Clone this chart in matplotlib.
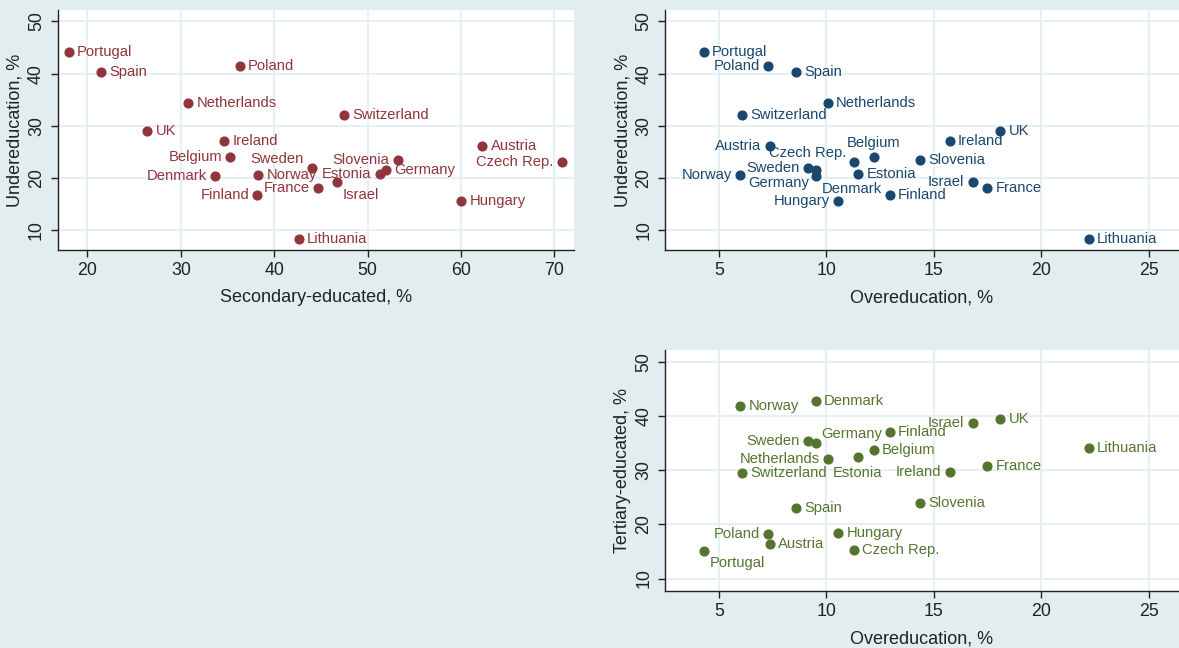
import matplotlib
matplotlib.use("Agg")
import matplotlib.pyplot as plt

plt.rcParams['font.family'] = ['Liberation Sans', 'DejaVu Sans']

countries = ["Portugal", "Spain", "Poland", "Netherlands", "Switzerland", "UK",
             "Ireland", "Belgium", "Denmark", "Norway", "Finland", "Sweden",
             "France", "Israel", "Estonia", "Germany", "Slovenia", "Lithuania",
             "Hungary", "Austria", "Czech Rep."]

secondary = [18.0, 21.4, 36.3, 30.8, 47.5, 26.4, 34.6, 35.3, 33.7, 38.3, 38.2, 44.0,
             44.7, 46.7, 51.3, 52.0, 53.2, 42.6, 60.0, 62.3, 70.8]
undereducation = [44.2, 40.4, 41.4, 34.3, 32.1, 29.0, 27.0, 24.1, 20.3, 20.6, 16.7, 22.0,
                  18.1, 19.2, 20.8, 21.5, 23.5, 8.4, 15.6, 26.2, 23.1]
overeducation = [4.3, 8.6, 7.3, 10.07, 6.07, 18.08, 15.73, 12.2, 9.5, 6.0, 12.94, 9.13,
                 17.48, 16.8, 11.47, 9.5, 14.35, 22.2, 10.54, 7.38, 11.29]
tertiary = [15.1, 23.0, 18.2, 32.1, 29.5, 39.4, 29.6, 33.7, 42.7, 41.9, 37.1, 35.4,
            30.7, 38.7, 32.5, 35.1, 24.0, 34.1, 18.5, 16.3, 15.2]

# label positions (clock positions)
pos1 = {"Belgium": 9, "Denmark": 9, "Finland": 9, "Sweden": 11, "France": 9,
        "Israel": 5, "Estonia": 9, "Slovenia": 9, "Czech Rep.": 9}
pos2 = {"Poland": 9, "Austria": 9, "Czech Rep.": 11, "Belgium": 12, "Sweden": 9,
        "Germany": 7, "Denmark": 5, "Norway": 9, "Hungary": 9, "Israel": 9}
pos3 = {"Israel": 9, "Germany": 1, "Sweden": 9, "Netherlands": 9, "Estonia": 6,
        "Ireland": 9, "Poland": 9, "Portugal": 5}

BG = "#e1edef"
GRID = "#e6eff1"

fig = plt.figure(figsize=(11.79, 6.48), dpi=100)
fig.patch.set_facecolor(BG)

W, H = 1179.0, 648.0
def make_ax(l, r, t, b):
    return fig.add_axes([l / W, 1 - b / H, (r - l) / W, (b - t) / H])

ax1 = make_ax(57.6, 574, 10, 250)
ax2 = make_ax(665.1, 1179, 10, 250)
ax3 = make_ax(665.1, 1179, 350, 591)

offsets = {3: (6, 0, 'left', 'center'), 9: (-6, 0, 'right', 'center'),
           11: (-5.5, 6.3, 'right', 'center'), 12: (0, 10, 'center', 'center'),
           1: (4, 6, 'left', 'center'), 5: (4.5, -9, 'left', 'center'),
           7: (-5, -9, 'right', 'center'), 6: (0, -12, 'center', 'center')}

def panel(ax, xs, ys, color, pos, xlim, ylim, xticks, xlabel, ylabel):
    ax.set_facecolor("white")
    ax.plot(xs, ys, 'o', color=color, ms=6.3, zorder=3, clip_on=False)
    for c, x, y in zip(countries, xs, ys):
        p = pos.get(c, 3)
        dx, dy, ha, va = offsets[p]
        ax.annotate(c, (x, y), xytext=(dx, dy), textcoords='offset points',
                    ha=ha, va=va, color=color, fontsize=10.6, zorder=4)
    ax.set_xlim(*xlim)
    ax.set_ylim(*ylim)
    ax.set_xticks(xticks)
    ax.set_yticks([10, 20, 30, 40, 50])
    ax.grid(True, color=GRID, lw=1.5, zorder=0)
    ax.set_axisbelow(True)
    for s in ["top", "right"]:
        ax.spines[s].set_visible(False)
    for s in ["left", "bottom"]:
        ax.spines[s].set_color("#222222")
        ax.spines[s].set_linewidth(1.0)
    ax.tick_params(axis='both', labelsize=12.8, length=5, width=1.0, color="#222222",
                   labelcolor="#222222", pad=4)
    for lab in ax.get_yticklabels():
        lab.set_rotation(90)
        lab.set_va('center')
    ax.set_xlabel(xlabel, fontsize=13, color="#222222", labelpad=7)
    ax.set_ylabel(ylabel, fontsize=13, color="#222222", labelpad=3)

MAROON = "#90353b"
NAVY = "#1a476f"
GREEN = "#55752f"

panel(ax1, secondary, undereducation, MAROON, pos1, (16.8, 72.1), (6.2, 52.2),
      [20, 30, 40, 50, 60, 70], "Secondary-educated, %", "Undereducation, %")
panel(ax2, overeducation, undereducation, NAVY, pos2, (2.5, 26.4), (6.2, 52.2),
      [5, 10, 15, 20, 25], "Overeducation, %", "Undereducation, %")
panel(ax3, overeducation, tertiary, GREEN, pos3, (2.5, 26.4), (7.7, 52.2),
      [5, 10, 15, 20, 25], "Overeducation, %", "Tertiary-educated, %")

fig.savefig("out.png", dpi=100, facecolor=BG)
